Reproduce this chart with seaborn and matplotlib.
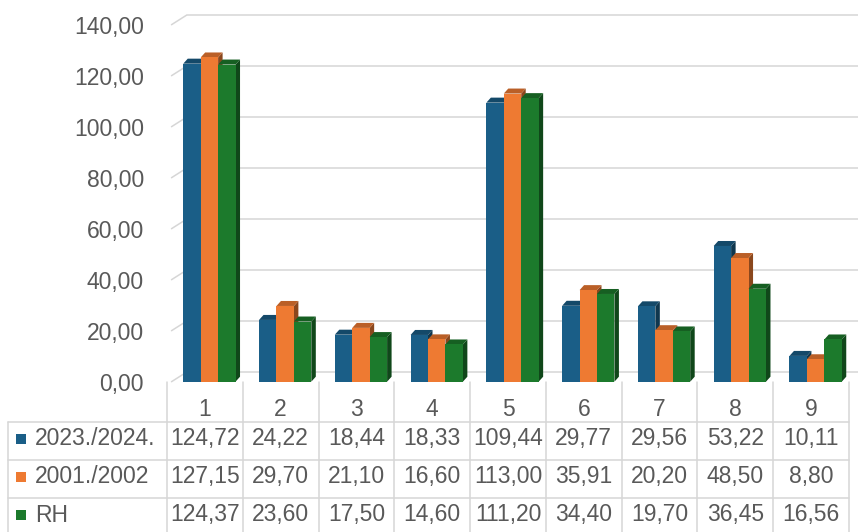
import numpy as np
import pandas as pd
import matplotlib
matplotlib.use("Agg")
import matplotlib.pyplot as plt
from matplotlib.patches import Polygon, Rectangle
from matplotlib.lines import Line2D
from matplotlib.transforms import IdentityTransform
import matplotlib.colors as mcolors
import seaborn as sns

# ---- data -------------------------------------------------------------
categories = ["1", "2", "3", "4", "5", "6", "7", "8", "9"]
series_names = ["2023./2024.", "2001./2002", "RH"]
vals_2023_2024 = [124.72, 24.22, 18.44, 18.33, 109.44, 29.77, 29.56, 53.22, 10.11]
vals_2001_2002 = [127.15, 29.70, 21.10, 16.60, 113.00, 35.91, 20.20, 48.50, 8.80]
vals_rh = [124.37, 23.60, 17.50, 14.60, 111.20, 34.40, 19.70, 36.45, 16.56]
y_ticks = [0, 20, 40, 60, 80, 100, 120, 140]
series_colors = ["#1a5e87", "#ee7a32", "#1c7a2c"]


def fmt(v):
    return f"{v:.2f}".replace(".", ",")


# ---- figure / geometry (pixels) --------------------------------------
W, H, DPI = 858, 532, 100
TEXT = "#595959"
LINE = "#d6d6d6"
FS = 16.5

sns.set_theme(style="white")
plt.rcParams["font.family"] = ["Liberation Sans", "DejaVu Sans"]

fig = plt.figure(figsize=(W / DPI, H / DPI), dpi=DPI)
fig.patch.set_facecolor("white")

col_left, col_right = 167.0, 849.0
col_w = (col_right - col_left) / len(categories)
floor_front = 381.7          # pixel row of the front floor edge
px_per_unit = 2.55
wall_dx, wall_dy = 15.0, 9.5  # depth of the back wall
bar_shift = 4.5               # bars sit slightly right of the column centres
bar_dx, bar_dy = 4.5, 5.0     # depth of each bar

ax = fig.add_axes([col_left / W, (H - floor_front) / H,
                   (W - col_left) / W, floor_front / H])
ax.set_facecolor("none")

df = pd.DataFrame({
    "cat": categories * 3,
    "series": np.repeat(series_names, len(categories)),
    "value": vals_2023_2024 + vals_2001_2002 + vals_rh,
})
sns.barplot(data=df, x="cat", y="value", hue="series", order=categories,
            hue_order=series_names, palette=series_colors, width=0.69,
            gap=0, saturation=1, errorbar=None, legend=False, ax=ax,
            linewidth=0)

x0 = -0.5 - bar_shift / col_w
ax.set_xlim(x0, x0 + (W - col_left) / col_w)
ax.set_ylim(0, floor_front / px_per_unit)
for s in ax.spines.values():
    s.set_visible(False)
ax.set_xticks([])
ax.set_xlabel("")
ax.set_ylabel("")
ax.set_yticks(y_ticks)
ax.set_yticklabels([fmt(v) for v in y_ticks])
ax.tick_params(axis="y", length=0, pad=23 * 72 / DPI, labelsize=FS,
               labelcolor=TEXT)
ax.grid(False)

# 3D faces on each bar
bdx = bar_dx / col_w
bdy = bar_dy / px_per_unit
n = len(categories)
for i, p in enumerate(ax.patches):
    k = i // n
    base = np.array(mcolors.to_rgb(series_colors[k]))
    x, w, h = p.get_x(), p.get_width(), p.get_height()
    z = 3 + k
    p.set_zorder(z)
    top = Polygon([(x, h), (x + w, h), (x + w + bdx, h + bdy), (x + bdx, h + bdy)],
                  closed=True, fc=base * 0.78, ec="none", zorder=z - 0.5)
    side = Polygon([(x + w, 0), (x + w + bdx, bdy), (x + w + bdx, h + bdy), (x + w, h)],
                   closed=True, fc=base * 0.58, ec="none", zorder=z - 0.5)
    ax.add_patch(side)
    ax.add_patch(top)

# back wall gridlines with their perspective stubs on the left (behind bars)
for v in y_ticks:
    fx, fy = ax.transData.transform((x0 + bar_shift / col_w, v))
    fig.add_artist(Line2D([fx, fx + wall_dx], [fy, fy + wall_dy],
                          transform=IdentityTransform(), color=LINE, lw=1.1,
                          zorder=-0.5))
    fig.add_artist(Line2D([fx + wall_dx, W + 5], [fy + wall_dy, fy + wall_dy],
                          transform=IdentityTransform(), color=LINE, lw=1.1,
                          zorder=-0.5))

# ---- data table -------------------------------------------------------
tab = fig.add_axes([0, 0, 1, 1], zorder=-1)
tab.set_xlim(0, W)
tab.set_ylim(H, 0)
tab.axis("off")

row_lines = [421.5, 459.5, 497.5, 535.5]
row_centers = [438.5, 476.5, 515.0]
header_y = 409.5
left_edge = 7.5

for j in range(len(categories) + 1):
    xv = col_left + j * col_w
    tab.plot([xv, xv], [floor_front, H + 5], color=LINE, lw=1.1, clip_on=False)
tab.plot([left_edge, left_edge], [row_lines[0], H + 5], color=LINE, lw=1.1,
         clip_on=False)
for yv in row_lines:
    tab.plot([left_edge, col_right], [yv, yv], color=LINE, lw=1.1, clip_on=False)

for j, c in enumerate(categories):
    tab.text(col_left + (j + 0.5) * col_w, header_y, c, ha="center",
             va="center", fontsize=FS, color=TEXT)

all_rows = [vals_2023_2024, vals_2001_2002, vals_rh]
for r, (name, vals, colr) in enumerate(zip(series_names, all_rows, series_colors)):
    yc = row_centers[r]
    tab.add_patch(Rectangle((16, yc - 5), 10, 10, fc=colr, ec="none"))
    tab.text(35, yc, name, ha="left", va="center", fontsize=FS, color=TEXT)
    for j, v in enumerate(vals):
        tab.text(col_left + (j + 0.5) * col_w, yc, fmt(v), ha="center",
                 va="center", fontsize=FS, color=TEXT)

fig.savefig("out.png", dpi=DPI, facecolor="white")
